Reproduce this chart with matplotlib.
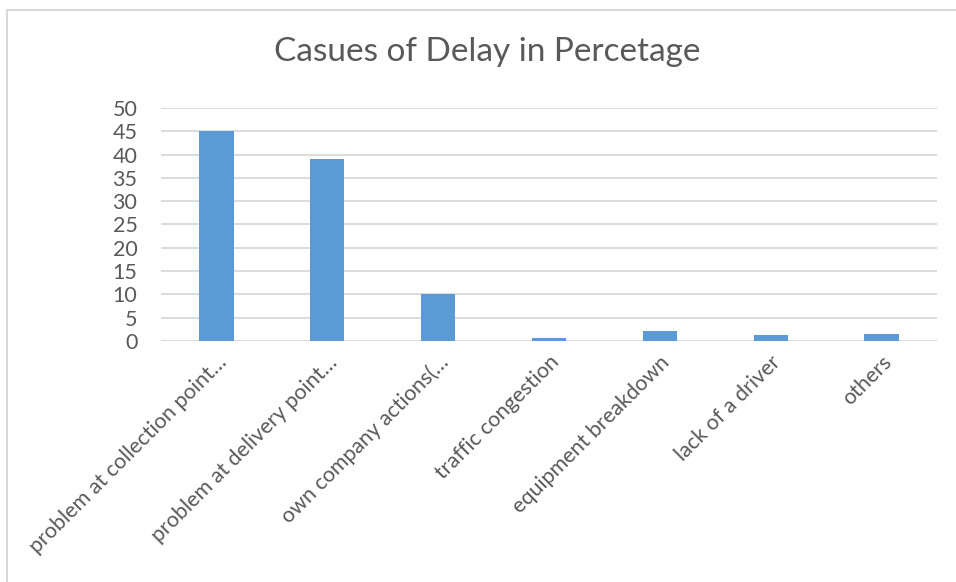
import matplotlib.pyplot as plt
import numpy as np
from matplotlib.patches import Rectangle

causes = ["problem at collection point…", "problem at delivery point…", "own company actions(…",
          "traffic congestion", "equipment breakdown", "lack of a driver", "others"]
percent = [45, 39, 10, 0.7, 2.1, 1.3, 1.6]
yticks = [0, 5, 10, 15, 20, 25, 30, 35, 40, 45, 50]

plt.rcParams['font.family'] = ['Lato', 'DejaVu Sans']
grey = "#595959"

fig = plt.figure(figsize=(9.56, 5.82), dpi=100)
# chart frame (only top/left edges visible in the crop)
fig.patches.append(Rectangle((7/956, -0.1), 1.2, 1 - 10/582 + 0.1, transform=fig.transFigure,
                             fill=False, edgecolor="#d9d9d9", linewidth=1.5))

ax = fig.add_axes([161/956, 1 - 341/582, (937-161)/956, (341-108)/582])
x = np.arange(len(causes))
ax.bar(x, percent, width=0.31, color="#5b9bd5", zorder=3)
ax.set_xlim(-0.5, len(causes) - 0.5)
ax.set_ylim(0, 50)
ax.set_yticks(yticks)
ax.grid(axis="y", color="#d9d9d9", linewidth=1.3, zorder=0)
for s in ax.spines.values():
    s.set_visible(False)
ax.tick_params(length=0, colors=grey, labelsize=15.5)
ax.tick_params(axis="y", pad=17)
ax.set_xticks(x)
ax.set_xticklabels(causes, rotation=45, ha="right", rotation_mode="anchor", fontsize=15.5, color=grey)
ax.tick_params(axis="x", pad=8)

fig.text(487/956, 1 - 52/582, "Casues of Delay in Percetage", ha="center", va="center",
         fontsize=24, color=grey)

fig.savefig("out.png", dpi=100)
